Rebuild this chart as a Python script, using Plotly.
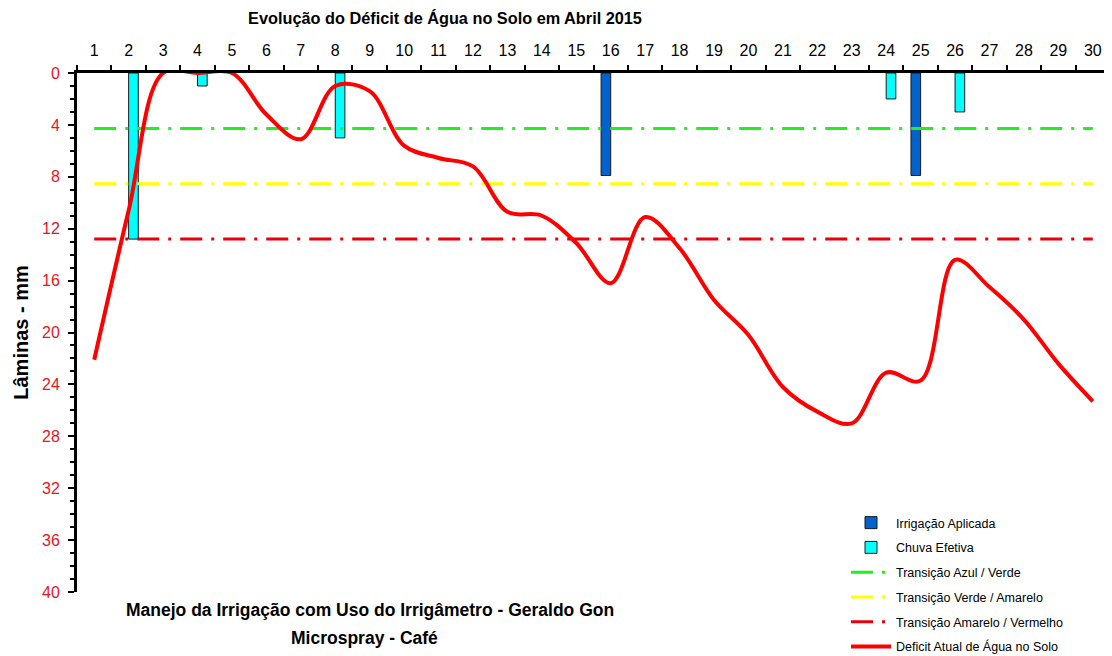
import plotly.graph_objects as go

days = list(range(1, 31))
deficit = [22.1, 10.6, 0.0, 0.0, 0.0, 3.2, 5.1, 1.0, 1.4, 5.6,
           6.55, 7.2, 10.7, 11.0, 13.1, 16.2, 11.1, 13.5, 17.5, 20.2,
           24.2, 26.1, 27.0, 23.1, 23.7, 14.4, 16.5, 19.0, 22.4, 25.3]
irrig_days = [16, 25]
irrig_vals = [7.9, 7.9]
chuva_days = [2, 4, 8, 24, 26]
chuva_vals = [12.8, 1.0, 5.0, 2.0, 3.0]
lim_azul_verde = 4.27
lim_verde_amarelo = 8.53
lim_amarelo_vermelho = 12.8
y_ticks = [0, 4, 8, 12, 16, 20, 24, 28, 32, 36, 40]

FONT = "Arial, Liberation Sans, sans-serif"
DASH = "22px,9px,3px,9px"
W, H = 1104, 648

fig = go.Figure()
fig.add_trace(go.Bar(x=irrig_days, y=irrig_vals, name="Irrigação Aplicada",
                     marker=dict(color="#0062CC", line=dict(color="#1a1a1a", width=1)),
                     offsetgroup="irr", legendgroup="a"))
fig.add_trace(go.Bar(x=chuva_days, y=chuva_vals, name="Chuva Efetiva",
                     marker=dict(color="#00FFFF", line=dict(color="#1a1a1a", width=1)),
                     offsetgroup="chu", legendgroup="b"))
fig.add_trace(go.Scatter(x=days, y=[lim_azul_verde] * len(days), mode="lines",
                         name="Transição Azul / Verde",
                         line=dict(color="#22EE22", width=3, dash=DASH), legendgroup="c"))
fig.add_trace(go.Scatter(x=days, y=[lim_verde_amarelo] * len(days), mode="lines",
                         name="Transição Verde / Amarelo",
                         line=dict(color="#FFFF00", width=3, dash=DASH), legendgroup="d"))
fig.add_trace(go.Scatter(x=days, y=[lim_amarelo_vermelho] * len(days), mode="lines",
                         name="Transição Amarelo / Vermelho",
                         line=dict(color="#E8000A", width=3, dash=DASH), legendgroup="e"))
fig.add_trace(go.Scatter(x=days, y=deficit, mode="lines",
                         name="Deficit Atual de Água no Solo",
                         line=dict(color="#FF0000", width=4, shape="spline", smoothing=1.0),
                         legendgroup="f"))

minor_x = [d - 0.5 for d in days] + [days[-1] + 0.5]

fig.update_layout(
    width=W, height=H,
    margin=dict(l=69, r=2, t=65, b=64, autoexpand=False),
    paper_bgcolor="white", plot_bgcolor="white",
    barmode="group", bargap=0.44, bargroupgap=0,
    font=dict(family=FONT, color="black"),
    title=dict(text="<b>Evolução do Déficit de Água no Solo em Abril 2015</b>",
               x=437 / W, xanchor="center", y=1 - 10 / H, yref="container",
               yanchor="middle", font=dict(family=FONT, size=16.3, color="black")),
    xaxis=dict(range=[0.5, 30.5], side="top", tickvals=days, ticktext=[str(d) for d in days],
               ticks="", showline=True, linecolor="black", linewidth=3, automargin=False,
               ticklabelstandoff=8,
               showgrid=False, zeroline=False, tickfont=dict(size=16, color="black"),
               minor=dict(tickvals=minor_x, ticks="outside", ticklen=5, tickwidth=2,
                          tickcolor="black", showgrid=False)),
    yaxis=dict(range=[40, 0], tickvals=y_ticks, ticks="outside", ticklen=6, tickwidth=2,
               tickcolor="black", showline=True, linecolor="black", linewidth=3,
               automargin=False, ticklabelstandoff=5,
               showgrid=False, zeroline=False, tickfont=dict(size=16, color="#E8141E"),
               title=dict(text="<b>Lâminas - mm</b>", font=dict(size=20, color="black"),
                          standoff=9),
               minor=dict(dtick=1, tick0=0, ticks="outside", ticklen=4, tickwidth=2,
                          tickcolor="black", showgrid=False)),
    legend=dict(x=838 / W, xref="container", xanchor="left",
                y=1 - 500 / H, yref="container", yanchor="top",
                bgcolor="rgba(0,0,0,0)", font=dict(size=12.5, color="black"),
                tracegroupgap=5.5, itemwidth=40, traceorder="grouped"),
    showlegend=True,
)

plot_h = H - 65 - 64
fig.add_annotation(text="<b>Manejo da Irrigação com Uso do Irrigâmetro - Geraldo Gon</b>",
                   x=(362 - 69) / (W - 71), xref="paper", xanchor="center",
                   y=-(602 - 584) / plot_h, yref="paper", yanchor="middle",
                   showarrow=False, font=dict(family=FONT, size=17.5, color="black"))
fig.add_annotation(text="<b>Microspray - Café</b>",
                   x=(356 - 69) / (W - 71), xref="paper", xanchor="center",
                   y=-(630 - 584) / plot_h, yref="paper", yanchor="middle",
                   showarrow=False, font=dict(family=FONT, size=17.5, color="black"))

fig.write_html("out.html")
